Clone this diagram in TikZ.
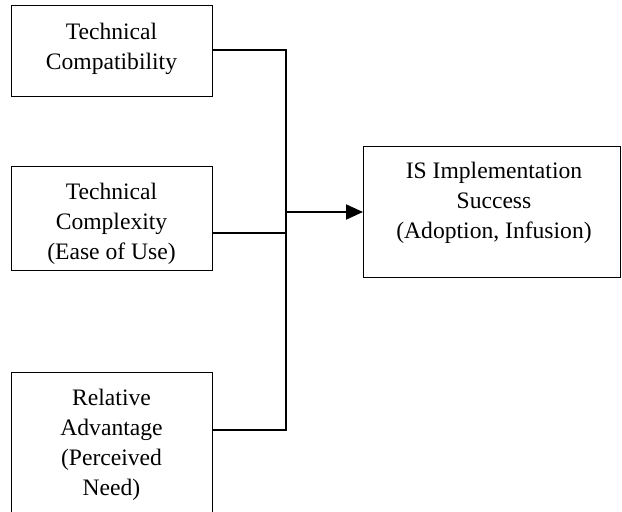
\documentclass[tikz,border=0pt]{standalone}
\usepackage{fontspec}
\setmainfont{Liberation Serif}
\usetikzlibrary{arrows.meta}
\begin{document}
\begin{tikzpicture}[x=1pt,y=-1pt,
  box/.style={draw=black,line width=1.4pt,rectangle,inner sep=0pt,anchor=north west},
  lbl/.style={align=center,inner sep=0pt,anchor=north,font=\fontsize{23.6}{30}\selectfont},
  conn/.style={draw=black,line width=2pt},
  arr/.style={conn,-{Triangle[length=17pt,width=15pt]}}]
\useasboundingbox (0,0) rectangle (622,512);
\clip (0,0) rectangle (622,512);
\node[box,minimum width=201pt,minimum height=91pt] (b1) at (11,5) {};
\node[box,minimum width=201pt,minimum height=104pt] (b2) at (11,166) {};
\node[box,minimum width=201pt,minimum height=160pt] (b3) at (11,372) {};
\node[box,minimum width=257pt,minimum height=131pt] (out) at (363,146) {};
\node[lbl] (t1) at (111.5,23) {Technical\\Compatibility};
\node[lbl] (t2) at (111.5,183) {Technical\\Complexity\\(Ease of Use)};
\node[lbl] (t3) at (111.5,389) {Relative\\Advantage\\(Perceived\\Need)};
\node[lbl] (t4) at (494,162) {IS Implementation\\Success\\(Adoption, Infusion)};
\coordinate (jtop) at (286,50);
\coordinate (jbot) at (286,430);
\coordinate (jmid) at (286,233);
\coordinate (jarr) at (286,212);
\draw[conn] (b1.east |- jtop) -- (jtop) -- (jbot) -- (jbot -| b3.east);
\draw[conn] (b2.east |- jmid) -- (jmid);
\draw[arr] (jarr) -- (jarr -| out.west);
\end{tikzpicture}
\end{document}
